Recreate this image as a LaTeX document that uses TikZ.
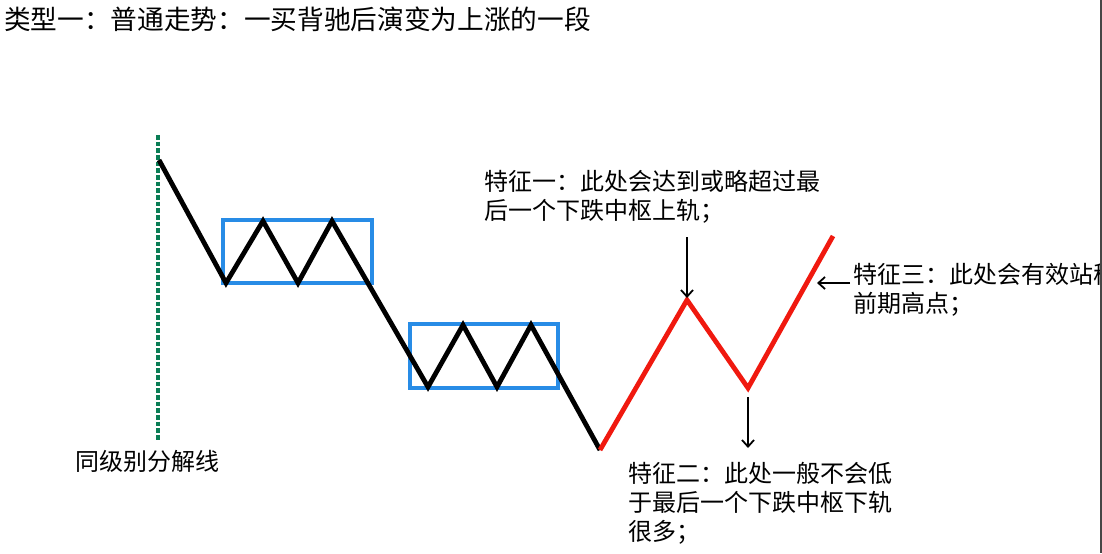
\documentclass[tikz,border=0pt]{standalone}
\usepackage{fontspec}
\setmainfont{Noto Sans CJK SC}
\usepackage{xcolor}
\definecolor{LineGreen}{RGB}{10,125,85}
\definecolor{BoxBlue}{RGB}{40,140,230}
\definecolor{RiseRed}{RGB}{240,25,15}
\definecolor{EdgeGray}{RGB}{70,70,70}
\usepackage{tikz}
\usetikzlibrary{
    arrows.meta,
    positioning
}

\tikzset{
    note/.style={
        anchor=north west,
        align=left,
        inner sep=0pt,
        font=\fontsize{18pt}{21.75pt}\selectfont
    },
    pointer/.style={
        -{Straight Barb[length=5pt,width=9pt]},
        line width=1.35pt
    },
    pivotbox/.style={
        draw=BoxBlue,
        line width=2.8pt
    }
}

\begin{document}
\begin{tikzpicture}[x=0.75pt,y=-0.75pt]
%
    \useasboundingbox (0,0) rectangle (1102,553);
    \clip (0,0) rectangle (1102,553);
%
    \node[
        note,
        font=\fontsize{20pt}{24pt}\selectfont
    ]
    (title) at (4,7) {
        类型一：普通走势：一买背驰后演变为上涨的一段
    };
%
    % level split line
%
    \draw[
        LineGreen,
        line width=2.3pt,
        dash pattern=on 3.5pt off 1.5pt
    ]
    (158,135)
    --
    (158,440);
%
    \node[
        note
    ]
    (split) at (75,450) {
        同级别分解线
    };
%
    % two pivot boxes
%
    \draw[
        pivotbox
    ]
    (223,220)
    rectangle
    (372,283);
%
    \draw[
        pivotbox
    ]
    (410,324)
    rectangle
    (558,388);
%
    % falling leg with two pivots
%
    \draw[
        black,
        line width=3.6pt
    ]
    plot coordinates {
        (159,160)
        (226,283)
        (263,221)
        (298,283)
        (332,221)
        (428,387)
        (463,325)
        (497,387)
        (531,325)
        (600,450)
    };
%
    % rising leg after the first buy
%
    \draw[
        RiseRed,
        line width=3.6pt
    ]
    plot coordinates {
        (600,450)
        (687,300)
        (748,388)
        (833,236)
    };
%
    \node[
        note
    ]
    (featA) at (484,170) {
        特征一：此处会达到或略超过最\\
        后一个下跌中枢上轨；
    };
%
    \node[
        note
    ]
    (featB) at (628,462) {
        特征二：此处一般不会低\\
        于最后一个下跌中枢下轨\\
        很多；
    };
%
    \node[
        note
    ]
    (featC) at (853,263) {
        特征三：此处会有效站稳\\
        前期高点；
    };
%
    \coordinate (tailA) at (687,237);
    \coordinate (tipA) at (687,298);
    \coordinate (tailB) at (748,397);
    \coordinate (tipB) at (748,448);
    \coordinate (tailC) at (850,283);
    \coordinate (tipC) at (817,283);
%
    \draw[pointer] (tailA) -- (tipA);
    \draw[pointer] (tailB) -- (tipB);
    \draw[pointer] (tailC) -- (tipC);
%
    \draw[
        EdgeGray,
        line width=1.2pt
    ]
    (1101,0)
    --
    (1101,553);
%
\end{tikzpicture}
\end{document}
